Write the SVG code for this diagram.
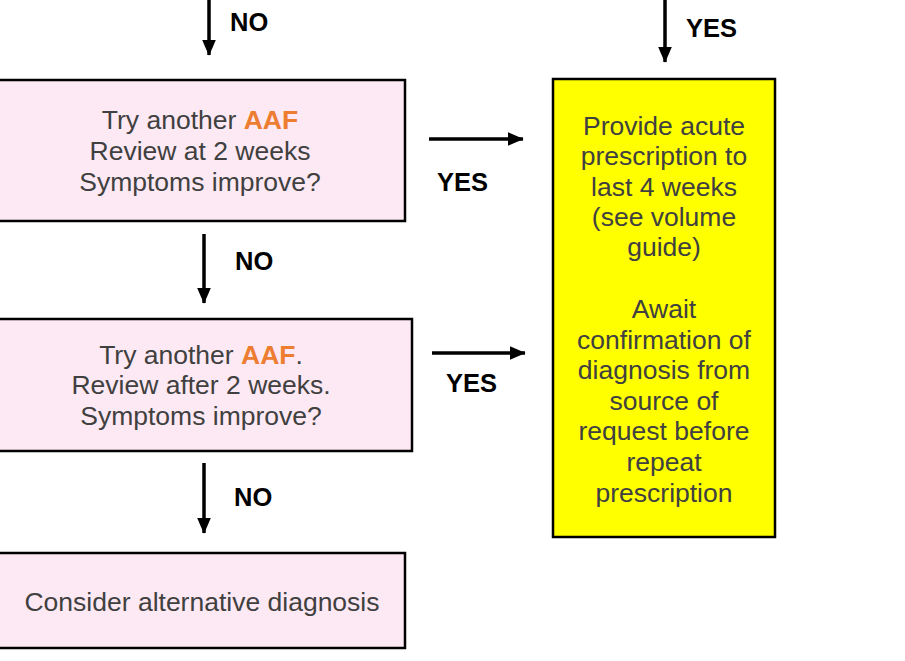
<svg xmlns="http://www.w3.org/2000/svg" width="905" height="661" viewBox="0 0 905 661">
<style>
.box{fill:#FDE9F3;stroke:#000;stroke-width:2.5}
.yel{fill:#FFFF00;stroke:#000;stroke-width:2.5}
.t{font-family:"Liberation Sans",Arial,sans-serif;font-size:26.5px;fill:#404040;text-anchor:middle}
.o{font-weight:bold;fill:#ED7D31}
.lbl{font-family:"Liberation Sans",Arial,sans-serif;font-size:25.5px;font-weight:bold;fill:#000}
.c{stroke:#000;stroke-width:3.5;fill:none}
</style>
<defs>
<marker id="ah" markerWidth="4.6" markerHeight="4" refX="4.4" refY="2" orient="auto" markerUnits="strokeWidth">
<path d="M0,0 L4.6,2 L0,4 Z" fill="#000"/>
</marker>
</defs>
<rect width="905" height="661" fill="#fff"/>
<g id="connectors">
<line class="c" x1="209" y1="0" x2="209" y2="55" marker-end="url(#ah)"/>
<line class="c" x1="665" y1="0" x2="665" y2="62" marker-end="url(#ah)"/>
<line class="c" x1="429" y1="139" x2="523" y2="139" marker-end="url(#ah)"/>
<line class="c" x1="432" y1="353" x2="525" y2="353" marker-end="url(#ah)"/>
<line class="c" x1="204" y1="234" x2="204" y2="303" marker-end="url(#ah)"/>
<line class="c" x1="204" y1="463" x2="204" y2="533" marker-end="url(#ah)"/>
<text class="lbl" x="230" y="31">NO</text>
<text class="lbl" x="686" y="37">YES</text>
<text class="lbl" x="437" y="191">YES</text>
<text class="lbl" x="235" y="270">NO</text>
<text class="lbl" x="446" y="392">YES</text>
<text class="lbl" x="234" y="506">NO</text>
</g>
<g id="node1">
<rect class="box" x="-5" y="80" width="410" height="141"/>
<text class="t" x="200" y="129">Try another <tspan class="o">AAF</tspan></text>
<text class="t" x="200" y="160">Review at 2 weeks</text>
<text class="t" x="200" y="191">Symptoms improve?</text>
</g>
<g id="node2">
<rect class="box" x="-5" y="319" width="417" height="132"/>
<text class="t" x="201" y="364">Try another <tspan class="o">AAF</tspan>.</text>
<text class="t" x="201" y="394">Review after 2 weeks.</text>
<text class="t" x="201" y="425">Symptoms improve?</text>
</g>
<g id="node3">
<rect class="box" x="-5" y="553" width="410" height="95"/>
<text class="t" x="202" y="611">Consider alternative diagnosis</text>
</g>
<g id="node4">
<rect class="yel" x="553" y="79" width="222" height="458"/>
<text class="t" x="664" y="135">Provide acute</text>
<text class="t" x="664" y="165">prescription to</text>
<text class="t" x="664" y="196">last 4 weeks</text>
<text class="t" x="664" y="226">(see volume</text>
<text class="t" x="664" y="256">guide)</text>
<text class="t" x="664" y="318">Await</text>
<text class="t" x="664" y="349">confirmation of</text>
<text class="t" x="664" y="379">diagnosis from</text>
<text class="t" x="664" y="410">source of</text>
<text class="t" x="664" y="440">request before</text>
<text class="t" x="664" y="471">repeat</text>
<text class="t" x="664" y="502">prescription</text>
</g>
</svg>
